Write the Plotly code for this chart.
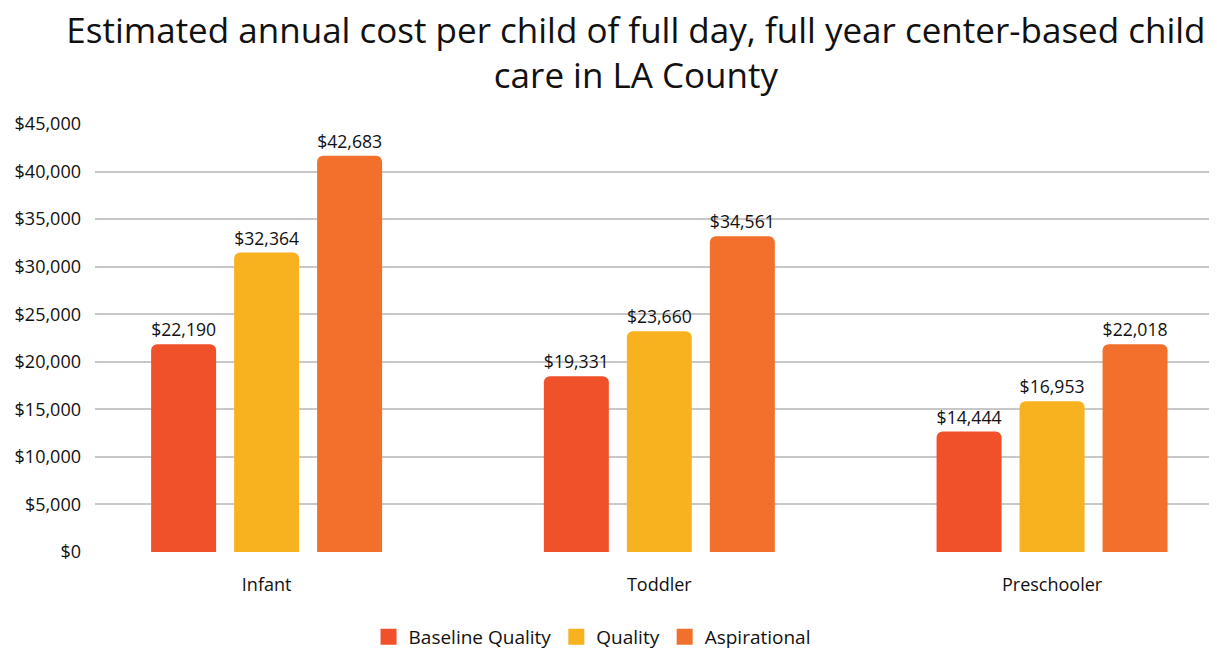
import plotly.graph_objects as go

categories = ["Infant", "Toddler", "Preschooler"]
series_names = ["Baseline Quality", "Quality", "Aspirational"]
# bar heights as drawn in the picture
baseline_vals = [21840, 18470, 12680]
quality_vals = [31500, 23200, 15840]
aspirational_vals = [41660, 33200, 21840]
# value labels printed above the bars
baseline_labels = ["$22,190", "$19,331", "$14,444"]
quality_labels = ["$32,364", "$23,660", "$16,953"]
aspirational_labels = ["$42,683", "$34,561", "$22,018"]
tick_vals = [0, 5000, 10000, 15000, 20000, 25000, 30000, 35000, 40000, 45000]
tick_text = ["$0", "$5,000", "$10,000", "$15,000", "$20,000", "$25,000",
             "$30,000", "$35,000", "$40,000", "$45,000"]
colors = ["#F0502A", "#F9B21F", "#F2702B"]

FONT = "Open Sans"

fig = go.Figure()
for name, vals, labels, col in zip(series_names,
                                   [baseline_vals, quality_vals, aspirational_vals],
                                   [baseline_labels, quality_labels, aspirational_labels],
                                   colors):
    fig.add_trace(go.Bar(
        x=categories, y=vals, name=name, marker=dict(color=col, line=dict(width=0)),
        text=labels, textposition="outside", cliponaxis=False,
        textfont=dict(family=FONT, size=18, color="#111111"),
        showlegend=False,
    ))
    fig.add_trace(go.Scatter(
        x=[None], y=[None], mode="markers", name=name,
        marker=dict(symbol="square", size=16, color=col),
    ))

fig.update_layout(
    width=1209, height=645,
    paper_bgcolor="white", plot_bgcolor="white",
    font=dict(family=FONT, size=18, color="#111111"),
    title=dict(
        text="Estimated annual cost per child of full day, full year center-based child<br>care in LA County",
        x=0.5194, xanchor="center", y=0.9465, yanchor="top",
        font=dict(family=FONT, size=35, color="#111111"),
    ),
    margin=dict(l=87, r=0, t=116, b=101),
    barmode="group", bargap=0.366, bargroupgap=0.217,
    barcornerradius=6,
    xaxis=dict(range=[-0.437, 2.42], showgrid=False, showline=False, zeroline=False,
               ticks="", ticklabelstandoff=20,
               tickfont=dict(family=FONT, size=18, color="#111111")),
    yaxis=dict(range=[0, 45000], tickvals=tick_vals, ticktext=tick_text,
               showgrid=True, gridcolor="#C8C8C8", gridwidth=2,
               zeroline=False, showline=False, ticks="", ticklabelstandoff=13,
               tickfont=dict(family=FONT, size=18, color="#111111")),
    legend=dict(orientation="h", x=0.443, xanchor="center",
                yref="container", y=0.025, yanchor="middle",
                font=dict(family=FONT, size=19, color="#111111"),
                itemsizing="trace", traceorder="normal"),
)

fig.write_html("out.html")
